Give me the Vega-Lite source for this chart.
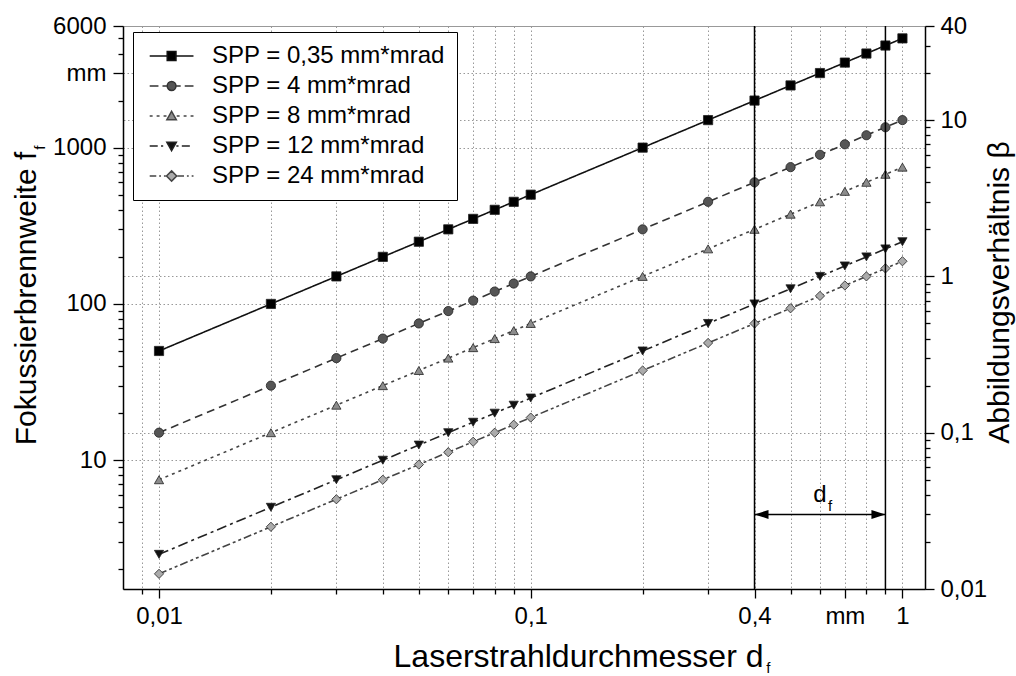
{
  "$schema": "https://vega.github.io/schema/vega-lite/v6.json",
  "width": 802,
  "height": 563,
  "autosize": {"type": "none"},
  "padding": {"left": 123, "top": 26, "right": 91, "bottom": 87},
  "config": {
    "font": "Liberation Sans",
    "view": {"stroke": "#999", "strokeWidth": 1},
    "axis": {
      "labelFont": "Liberation Sans", "labelFontSize": 24, "labelColor": "#000",
      "titleFont": "Liberation Sans", "titleFontSize": 30, "titleFontWeight": "normal", "titleColor": "#000",
      "domainColor": "#000", "domainWidth": 1.5, "tickColor": "#000", "tickWidth": 1.3,
      "gridColor": "#999", "gridDash": [1.5, 2.5], "gridWidth": 1,
      "labelOverlap": false, "labelFlush": false
    }
  },
  "datasets": {
    "curves": [
      {"s": "SPP = 0,35 mm*mrad", "d": 0.01, "f": 50}, {"s": "SPP = 0,35 mm*mrad", "d": 0.02, "f": 100}, {"s": "SPP = 0,35 mm*mrad", "d": 0.03, "f": 150}, {"s": "SPP = 0,35 mm*mrad", "d": 0.04, "f": 200}, {"s": "SPP = 0,35 mm*mrad", "d": 0.05, "f": 250}, {"s": "SPP = 0,35 mm*mrad", "d": 0.06, "f": 300}, {"s": "SPP = 0,35 mm*mrad", "d": 0.07, "f": 350}, {"s": "SPP = 0,35 mm*mrad", "d": 0.08, "f": 400}, {"s": "SPP = 0,35 mm*mrad", "d": 0.09, "f": 450}, {"s": "SPP = 0,35 mm*mrad", "d": 0.1, "f": 500}, {"s": "SPP = 0,35 mm*mrad", "d": 0.2, "f": 1000}, {"s": "SPP = 0,35 mm*mrad", "d": 0.3, "f": 1500}, {"s": "SPP = 0,35 mm*mrad", "d": 0.4, "f": 2000}, {"s": "SPP = 0,35 mm*mrad", "d": 0.5, "f": 2500}, {"s": "SPP = 0,35 mm*mrad", "d": 0.6, "f": 3000}, {"s": "SPP = 0,35 mm*mrad", "d": 0.7, "f": 3500}, {"s": "SPP = 0,35 mm*mrad", "d": 0.8, "f": 4000}, {"s": "SPP = 0,35 mm*mrad", "d": 0.9, "f": 4500}, {"s": "SPP = 0,35 mm*mrad", "d": 1.0, "f": 5000},
      {"s": "SPP = 4 mm*mrad", "d": 0.01, "f": 15}, {"s": "SPP = 4 mm*mrad", "d": 0.02, "f": 30}, {"s": "SPP = 4 mm*mrad", "d": 0.03, "f": 45}, {"s": "SPP = 4 mm*mrad", "d": 0.04, "f": 60}, {"s": "SPP = 4 mm*mrad", "d": 0.05, "f": 75}, {"s": "SPP = 4 mm*mrad", "d": 0.06, "f": 90}, {"s": "SPP = 4 mm*mrad", "d": 0.07, "f": 105}, {"s": "SPP = 4 mm*mrad", "d": 0.08, "f": 120}, {"s": "SPP = 4 mm*mrad", "d": 0.09, "f": 135}, {"s": "SPP = 4 mm*mrad", "d": 0.1, "f": 150}, {"s": "SPP = 4 mm*mrad", "d": 0.2, "f": 300}, {"s": "SPP = 4 mm*mrad", "d": 0.3, "f": 450}, {"s": "SPP = 4 mm*mrad", "d": 0.4, "f": 600}, {"s": "SPP = 4 mm*mrad", "d": 0.5, "f": 750}, {"s": "SPP = 4 mm*mrad", "d": 0.6, "f": 900}, {"s": "SPP = 4 mm*mrad", "d": 0.7, "f": 1050}, {"s": "SPP = 4 mm*mrad", "d": 0.8, "f": 1200}, {"s": "SPP = 4 mm*mrad", "d": 0.9, "f": 1350}, {"s": "SPP = 4 mm*mrad", "d": 1.0, "f": 1500},
      {"s": "SPP = 8 mm*mrad", "d": 0.01, "f": 7.5}, {"s": "SPP = 8 mm*mrad", "d": 0.02, "f": 15}, {"s": "SPP = 8 mm*mrad", "d": 0.03, "f": 22.5}, {"s": "SPP = 8 mm*mrad", "d": 0.04, "f": 30}, {"s": "SPP = 8 mm*mrad", "d": 0.05, "f": 37.5}, {"s": "SPP = 8 mm*mrad", "d": 0.06, "f": 45}, {"s": "SPP = 8 mm*mrad", "d": 0.07, "f": 52.5}, {"s": "SPP = 8 mm*mrad", "d": 0.08, "f": 60}, {"s": "SPP = 8 mm*mrad", "d": 0.09, "f": 67.5}, {"s": "SPP = 8 mm*mrad", "d": 0.1, "f": 75}, {"s": "SPP = 8 mm*mrad", "d": 0.2, "f": 150}, {"s": "SPP = 8 mm*mrad", "d": 0.3, "f": 225}, {"s": "SPP = 8 mm*mrad", "d": 0.4, "f": 300}, {"s": "SPP = 8 mm*mrad", "d": 0.5, "f": 375}, {"s": "SPP = 8 mm*mrad", "d": 0.6, "f": 450}, {"s": "SPP = 8 mm*mrad", "d": 0.7, "f": 525}, {"s": "SPP = 8 mm*mrad", "d": 0.8, "f": 600}, {"s": "SPP = 8 mm*mrad", "d": 0.9, "f": 675}, {"s": "SPP = 8 mm*mrad", "d": 1.0, "f": 750},
      {"s": "SPP = 12 mm*mrad", "d": 0.01, "f": 2.5}, {"s": "SPP = 12 mm*mrad", "d": 0.02, "f": 5}, {"s": "SPP = 12 mm*mrad", "d": 0.03, "f": 7.5}, {"s": "SPP = 12 mm*mrad", "d": 0.04, "f": 10}, {"s": "SPP = 12 mm*mrad", "d": 0.05, "f": 12.5}, {"s": "SPP = 12 mm*mrad", "d": 0.06, "f": 15}, {"s": "SPP = 12 mm*mrad", "d": 0.07, "f": 17.5}, {"s": "SPP = 12 mm*mrad", "d": 0.08, "f": 20}, {"s": "SPP = 12 mm*mrad", "d": 0.09, "f": 22.5}, {"s": "SPP = 12 mm*mrad", "d": 0.1, "f": 25}, {"s": "SPP = 12 mm*mrad", "d": 0.2, "f": 50}, {"s": "SPP = 12 mm*mrad", "d": 0.3, "f": 75}, {"s": "SPP = 12 mm*mrad", "d": 0.4, "f": 100}, {"s": "SPP = 12 mm*mrad", "d": 0.5, "f": 125}, {"s": "SPP = 12 mm*mrad", "d": 0.6, "f": 150}, {"s": "SPP = 12 mm*mrad", "d": 0.7, "f": 175}, {"s": "SPP = 12 mm*mrad", "d": 0.8, "f": 200}, {"s": "SPP = 12 mm*mrad", "d": 0.9, "f": 225}, {"s": "SPP = 12 mm*mrad", "d": 1.0, "f": 250},
      {"s": "SPP = 24 mm*mrad", "d": 0.01, "f": 1.875}, {"s": "SPP = 24 mm*mrad", "d": 0.02, "f": 3.75}, {"s": "SPP = 24 mm*mrad", "d": 0.03, "f": 5.625}, {"s": "SPP = 24 mm*mrad", "d": 0.04, "f": 7.5}, {"s": "SPP = 24 mm*mrad", "d": 0.05, "f": 9.375}, {"s": "SPP = 24 mm*mrad", "d": 0.06, "f": 11.25}, {"s": "SPP = 24 mm*mrad", "d": 0.07, "f": 13.125}, {"s": "SPP = 24 mm*mrad", "d": 0.08, "f": 15}, {"s": "SPP = 24 mm*mrad", "d": 0.09, "f": 16.875}, {"s": "SPP = 24 mm*mrad", "d": 0.1, "f": 18.75}, {"s": "SPP = 24 mm*mrad", "d": 0.2, "f": 37.5}, {"s": "SPP = 24 mm*mrad", "d": 0.3, "f": 56.25}, {"s": "SPP = 24 mm*mrad", "d": 0.4, "f": 75}, {"s": "SPP = 24 mm*mrad", "d": 0.5, "f": 93.75}, {"s": "SPP = 24 mm*mrad", "d": 0.6, "f": 112.5}, {"s": "SPP = 24 mm*mrad", "d": 0.7, "f": 131.25}, {"s": "SPP = 24 mm*mrad", "d": 0.8, "f": 150}, {"s": "SPP = 24 mm*mrad", "d": 0.9, "f": 168.75}, {"s": "SPP = 24 mm*mrad", "d": 1.0, "f": 187.5}
    ]
  },
  "resolve": {"scale": {"y": "independent", "shape": "independent", "fill": "independent", "stroke": "independent"}},
  "layer": [
    {
      "data": {"name": "curves"},
      "mark": {"type": "line", "strokeWidth": 1.6},
      "encoding": {
        "x": {"field": "d", "type": "quantitative", "scale": {"type": "log", "domain": [0.008, 1.15], "nice": false},
          "axis": {
            "values": [0.009, 0.01, 0.02, 0.03, 0.04, 0.05, 0.06, 0.07, 0.08, 0.09, 0.1, 0.2, 0.3, 0.4, 0.5, 0.6, 0.7, 0.8, 0.9, 1],
            "labelExpr": "datum.value==0.01?'0,01':datum.value==0.1?'0,1':datum.value==0.4?'0,4':datum.value==0.7?'mm':datum.value==1?'1':''",
            "tickSize": {"condition": {"test": "datum.value==0.01||datum.value==0.1||datum.value==0.4||datum.value==0.7||datum.value==1", "value": 9}, "value": 5},
            "grid": true, "labelPadding": 6,
            "title": "Laserstrahldurchmesser d", "titleFontSize": 32,
            "titleX": 455, "titleY": 77, "titleBaseline": "alphabetic", "titleAlign": "center", "titleAnchor": null
          }},
        "y": {"field": "f", "type": "quantitative", "scale": {"type": "log", "domain": [1.5, 6000], "nice": false},
          "axis": {
            "orient": "left",
            "values": [2, 3, 4, 5, 6, 7, 8, 9, 10, 20, 30, 40, 50, 60, 70, 80, 90, 100, 200, 300, 400, 500, 600, 700, 800, 900, 1000, 2000, 3000, 4000, 5000, 6000],
            "labelExpr": "datum.value==6000?'6000':datum.value==3000?'mm':datum.value==1000?'1000':datum.value==100?'100':datum.value==10?'10':''",
            "tickSize": {"condition": {"test": "datum.value==10||datum.value==100||datum.value==1000||datum.value==3000||datum.value==6000", "value": 10}, "value": 5},
            "grid": true,
            "gridOpacity": {"condition": {"test": "datum.value==10||datum.value==100||datum.value==1000||datum.value==3000", "value": 1}, "value": 0},
            "labelPadding": 7,
            "title": "Fokussierbrennweite f", "titleAngle": 270,
            "titleX": -88, "titleY": 272, "titleBaseline": "alphabetic", "titleAlign": "center", "titleAnchor": null
          }},
        "stroke": {"field": "s", "type": "nominal", "scale": {"domain": ["SPP = 0,35 mm*mrad", "SPP = 4 mm*mrad", "SPP = 8 mm*mrad", "SPP = 12 mm*mrad", "SPP = 24 mm*mrad"], "range": ["#111111", "#333333", "#444444", "#222222", "#444444"]}, "legend": null},
        "strokeDash": {"field": "s", "type": "nominal", "scale": {"domain": ["SPP = 0,35 mm*mrad", "SPP = 4 mm*mrad", "SPP = 8 mm*mrad", "SPP = 12 mm*mrad", "SPP = 24 mm*mrad"], "range": [[1, 0], [8, 5], [3, 4], [10, 4, 3, 4], [8, 3, 3, 3, 3, 3]]}, "legend": null}
      }
    },
    {
      "data": {"name": "curves"},
      "mark": {"type": "point", "filled": true, "size": 85, "opacity": 1, "stroke": "#222222", "strokeWidth": 0.8},
      "encoding": {
        "x": {"field": "d", "type": "quantitative", "scale": {"type": "log", "domain": [0.008, 1.15], "nice": false}},
        "y": {"field": "f", "type": "quantitative", "scale": {"type": "log", "domain": [1.5, 6000], "nice": false}, "axis": null},
        "shape": {"field": "s", "type": "nominal", "scale": {"domain": ["SPP = 0,35 mm*mrad", "SPP = 4 mm*mrad", "SPP = 8 mm*mrad", "SPP = 12 mm*mrad", "SPP = 24 mm*mrad"], "range": ["square", "circle", "triangle-up", "triangle-down", "diamond"]}, "legend": null},
        "fill": {"field": "s", "type": "nominal", "scale": {"domain": ["SPP = 0,35 mm*mrad", "SPP = 4 mm*mrad", "SPP = 8 mm*mrad", "SPP = 12 mm*mrad", "SPP = 24 mm*mrad"], "range": ["#000000", "#555555", "#8c8c8c", "#111111", "#ababab"]}, "legend": null}
      }
    },
    {
      "data": {"name": "curves"},
      "mark": {"type": "point", "filled": true, "size": 213, "opacity": 0, "strokeWidth": 1.5},
      "encoding": {
        "x": {"field": "d", "type": "quantitative", "scale": {"type": "log", "domain": [0.008, 1.15], "nice": false}},
        "y": {"field": "f", "type": "quantitative", "scale": {"type": "log", "domain": [1.5, 6000], "nice": false}, "axis": null},
        "shape": {"field": "s", "type": "nominal",
          "scale": {"domain": ["SPP = 0,35 mm*mrad", "SPP = 4 mm*mrad", "SPP = 8 mm*mrad", "SPP = 12 mm*mrad", "SPP = 24 mm*mrad"],
            "range": [
              "M-1,0H1.4M2.6,0H5M1.4,-0.6H2.6V0.6H1.4Z",
              "M-1,0H0.2M0.75,0H1.4M2.6,0H3.25M3.8,0H5M2.6,0A0.6,0.6,0,1,1,1.4,0A0.6,0.6,0,1,1,2.6,0Z",
              "M-1,0H-0.6M-0.05,0H0.35M0.9,0H1.3M2.7,0H3.1M3.65,0H4.05M4.6,0H5M2,-0.65L2.65,0.5L1.35,0.5Z",
              "M-1,0H0.1M0.55,0H0.85M2.65,0H2.95M3.4,0H4.5M2,0.65L2.65,-0.5L1.35,-0.5Z",
              "M-1,0H-0.1M0.3,0H0.55M0.95,0H1.2M2.8,0H3.7M4.1,0H4.35M4.75,0H5M2,-0.7L2.7,0L2,0.7L1.3,0Z"
            ]},
          "legend": {"title": null, "orient": "none", "legendX": 10, "legendY": 6, "padding": 12, "strokeColor": "#000", "fillColor": "#fff", "labelFontSize": 24, "labelFont": "Liberation Sans", "labelColor": "#000", "labelOffset": 43, "symbolSize": 213, "symbolStrokeWidth": 1.5, "rowPadding": 6, "labelLimit": 400, "symbolOpacity": 1}},
        "fill": {"field": "s", "type": "nominal", "scale": {"domain": ["SPP = 0,35 mm*mrad", "SPP = 4 mm*mrad", "SPP = 8 mm*mrad", "SPP = 12 mm*mrad", "SPP = 24 mm*mrad"], "range": ["#000000", "#555555", "#8c8c8c", "#111111", "#ababab"]},
          "legend": {"title": null, "orient": "none", "legendX": 10, "legendY": 6, "padding": 12, "strokeColor": "#000", "fillColor": "#fff", "labelFontSize": 24, "labelFont": "Liberation Sans", "labelColor": "#000", "labelOffset": 43, "symbolSize": 213, "symbolStrokeWidth": 1.5, "rowPadding": 6, "labelLimit": 400, "symbolOpacity": 1}},
        "stroke": {"field": "s", "type": "nominal", "scale": {"domain": ["SPP = 0,35 mm*mrad", "SPP = 4 mm*mrad", "SPP = 8 mm*mrad", "SPP = 12 mm*mrad", "SPP = 24 mm*mrad"], "range": ["#111111", "#333333", "#444444", "#222222", "#444444"]},
          "legend": {"title": null, "orient": "none", "legendX": 10, "legendY": 6, "padding": 12, "strokeColor": "#000", "fillColor": "#fff", "labelFontSize": 24, "labelFont": "Liberation Sans", "labelColor": "#000", "labelOffset": 43, "symbolSize": 213, "symbolStrokeWidth": 1.5, "rowPadding": 6, "labelLimit": 400, "symbolOpacity": 1}}
      }
    },
    {
      "data": {"values": [{"d": 0.4}, {"d": 0.9}]},
      "mark": {"type": "rule", "color": "#000", "strokeWidth": 1.5},
      "encoding": {
        "x": {"field": "d", "type": "quantitative", "scale": {"type": "log", "domain": [0.008, 1.15], "nice": false}}
      }
    },
    {
      "data": {"values": [{"d": 0.436, "f": 1.5, "t": "f"}]},
      "mark": {"type": "text", "fontSize": 15, "dy": 79, "align": "center", "baseline": "middle", "color": "#000"},
      "encoding": {
        "x": {"field": "d", "type": "quantitative", "scale": {"type": "log", "domain": [0.008, 1.15], "nice": false}},
        "y": {"field": "f", "type": "quantitative", "scale": {"type": "log", "domain": [1.5, 6000], "nice": false}, "axis": null},
        "text": {"field": "t"}
      }
    },
    {
      "data": {"values": [{"d": 0.008, "f": 1000, "t": "f"}]},
      "mark": {"type": "text", "fontSize": 15, "angle": 270, "dy": -83, "align": "center", "baseline": "middle", "color": "#000"},
      "encoding": {
        "x": {"field": "d", "type": "quantitative", "scale": {"type": "log", "domain": [0.008, 1.15], "nice": false}},
        "y": {"field": "f", "type": "quantitative", "scale": {"type": "log", "domain": [1.5, 6000], "nice": false}, "axis": null},
        "text": {"field": "t"}
      }
    },
    {
      "data": {"values": [{"d1": 0.4, "d2": 0.9, "b": 0.03}]},
      "mark": {"type": "rule", "color": "#000", "strokeWidth": 1.5},
      "encoding": {
        "x": {"field": "d1", "type": "quantitative", "scale": {"type": "log", "domain": [0.008, 1.15], "nice": false}},
        "x2": {"field": "d2"},
        "y": {"field": "b", "type": "quantitative", "scale": {"type": "log", "domain": [0.01, 40], "nice": false},
          "axis": {
            "orient": "right",
            "values": [0.01, 0.02, 0.03, 0.04, 0.05, 0.06, 0.07, 0.08, 0.09, 0.1, 0.2, 0.3, 0.4, 0.5, 0.6, 0.7, 0.8, 0.9, 1, 2, 3, 4, 5, 6, 7, 8, 9, 10, 20, 30, 40],
            "labelExpr": "datum.value==0.01?'0,01':datum.value==0.1?'0,1':datum.value==1?'1':datum.value==10?'10':datum.value==40?'40':''",
            "tickSize": {"condition": {"test": "datum.value==0.01||datum.value==0.1||datum.value==1||datum.value==10||datum.value==40", "value": 9}, "value": 5},
            "grid": true,
            "gridOpacity": {"condition": {"test": "datum.value==0.1||datum.value==1||datum.value==10", "value": 1}, "value": 0},
            "labelPadding": 6,
            "title": "Abbildungsverhältnis β", "titleAngle": 270,
            "titleX": 83, "titleY": 266, "titleBaseline": "alphabetic", "titleAlign": "center", "titleAnchor": null
          }}
      }
    },
    {
      "data": {"values": [{"d": 0.4, "b": 0.03, "end": "left"}, {"d": 0.9, "b": 0.03, "end": "right"}]},
      "mark": {"type": "point", "filled": true, "size": 196, "opacity": 1, "color": "#000", "strokeWidth": 0},
      "encoding": {
        "x": {"field": "d", "type": "quantitative", "scale": {"type": "log", "domain": [0.008, 1.15], "nice": false}},
        "y": {"field": "b", "type": "quantitative", "scale": {"type": "log", "domain": [0.01, 40], "nice": false}, "axis": null},
        "shape": {"field": "end", "type": "nominal", "scale": {"domain": ["left", "right"], "range": ["M0,0L2,-0.64L2,0.64Z", "M0,0L-2,-0.64L-2,0.64Z"]}, "legend": null}
      }
    },
    {
      "data": {"values": [{"d": 0.6, "b": 0.04, "t": "d"}]},
      "mark": {"type": "text", "fontSize": 24, "align": "center", "baseline": "middle", "color": "#000"},
      "encoding": {
        "x": {"field": "d", "type": "quantitative", "scale": {"type": "log", "domain": [0.008, 1.15], "nice": false}},
        "y": {"field": "b", "type": "quantitative", "scale": {"type": "log", "domain": [0.01, 40], "nice": false}, "axis": null},
        "text": {"field": "t"}
      }
    },
    {
      "data": {"values": [{"d": 0.6, "b": 0.04, "t": "f"}]},
      "mark": {"type": "text", "fontSize": 15, "align": "center", "baseline": "middle", "dx": 10, "dy": 11, "color": "#000"},
      "encoding": {
        "x": {"field": "d", "type": "quantitative", "scale": {"type": "log", "domain": [0.008, 1.15], "nice": false}},
        "y": {"field": "b", "type": "quantitative", "scale": {"type": "log", "domain": [0.01, 40], "nice": false}, "axis": null},
        "text": {"field": "t"}
      }
    }
  ]
}
